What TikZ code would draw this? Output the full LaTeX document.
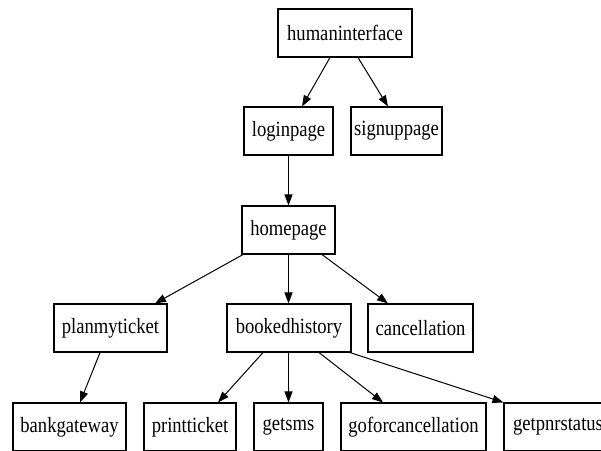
\documentclass[tikz,border=0pt]{standalone}
\usepackage{fontspec}
\usepackage{graphicx}
\setmainfont{Liberation Serif}
\usetikzlibrary{arrows.meta}
\newcommand\vstretch[1]{\scalebox{1}[1.17]{#1}}
\tikzset{
  box/.style={draw=black, line width=1.1pt, fill=white, inner sep=0pt, minimum height=48pt,
    font=\fontsize{18.6}{22}\selectfont, text=black},
  edge/.style={draw=black, line width=1pt, -{Triangle[length=11pt,width=8pt]}}
}
\begin{document}
\begin{tikzpicture}[x=1pt,y=-1pt]
\useasboundingbox (0,0) rectangle (601,450);
\clip (0,0) rectangle (601,450);
\fill[white] (0,0) rectangle (601,450);
\node[box, minimum width=134pt] (hi) at (345,33) {\vstretch{humaninterface}};
\node[box, minimum width=89pt] (login) at (288.5,131) {\vstretch{loginpage}};
\node[box, minimum width=91pt] (signup) at (396.5,131) {\vstretch{signuppage}};
\node[box, minimum width=93pt] (home) at (288.5,230) {\vstretch{homepage}};
\node[box, minimum width=113pt] (plan) at (110.5,328) {\vstretch{planmyticket}};
\node[box, minimum width=124pt] (booked) at (289,328) {\vstretch{bookedhistory}};
\node[box, minimum width=105pt] (cancel) at (420.5,328) {\vstretch{cancellation}};
\node[box, minimum width=113pt] (bank) at (69.5,427) {\vstretch{bankgateway}};
\node[box, minimum width=92pt] (print) at (190,427) {\vstretch{printticket}};
\node[box, minimum width=69pt] (sms) at (288.5,427) {\vstretch{getsms}};
\node[box, minimum width=145pt] (gofor) at (413.5,427) {\vstretch{goforcancellation}};
\node[box, minimum width=108pt] (pnr) at (558,427) {\vstretch{getpnrstatus}};

\draw[edge] ([xshift=-15pt]hi.south) -- ([xshift=13.5pt]login.north);
\draw[edge] ([xshift=13pt]hi.south) -- ([xshift=-8.5pt]signup.north);
\draw[edge] (login.south) -- (home.north);
\draw[edge] ([xshift=-45.5pt]home.south) -- ([xshift=44.5pt]plan.north);
\draw[edge] (home.south) -- (home.south |- booked.north);
\draw[edge] ([xshift=33.5pt]home.south) -- ([xshift=-32.5pt]cancel.north);
\draw[edge] ([xshift=-10.5pt]plan.south) -- ([xshift=10.5pt]bank.north);
\draw[edge] ([xshift=-26pt]booked.south) -- ([xshift=28pt]print.north);
\draw[edge] ([xshift=-0.5pt]booked.south) -- (sms.north);
\draw[edge] ([xshift=30pt]booked.south) -- ([xshift=-30.5pt]gofor.north);
\draw[edge] ([xshift=61pt]booked.south) -- (pnr.north west);
\end{tikzpicture}
\end{document}
